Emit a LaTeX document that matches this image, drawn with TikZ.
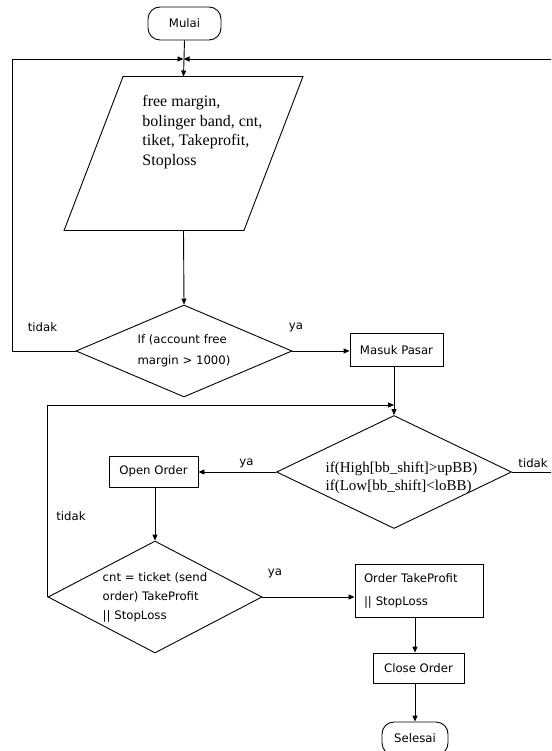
\documentclass[tikz,border=0pt]{standalone}
\usepackage{fontspec}
\setmainfont{Liberation Serif}
\newfontfamily\visfont{DejaVu Sans}
\usetikzlibrary{shapes.geometric,arrows.meta,calc}
\begin{document}
\begin{tikzpicture}[x=1pt,y=-1pt,
  line width=0.9pt,
  arr/.style={-{Triangle[length=6pt,width=5pt]}},
  vis/.style={font=\visfont\fontsize{11.7}{21}\selectfont},
  box/.style={draw, rectangle, inner sep=0pt, vis},
  term/.style={draw, rectangle, rounded corners=12pt, inner sep=0pt, vis},
  dec/.style={draw, diamond, inner sep=0pt, vis},
  lab/.style={inner sep=0pt, vis},
]
\useasboundingbox (0,0) rectangle (551,751);
\clip (0,0) rectangle (551,751);

% nodes
\node[term, minimum width=73pt, minimum height=33pt] (mulai) at (184.5,23.5) {Mulai};
\node[minimum width=179pt, minimum height=153pt, inner sep=0pt] (para) at (183.5,153.5) {};
\draw ([xshift=29.5pt]para.north west) -- ([xshift=29.5pt]para.north east)
   -- ([xshift=-29.5pt]para.south east) -- ([xshift=-29.5pt]para.south west) -- cycle;
\node[anchor=north west, align=left, inner sep=0pt, font=\fontsize{16}{19.5}\selectfont] (paratext) at (142,95)
  {free margin,\\bolinger band, cnt,\\tiket, Takeprofit,\\Stoploss};

\node[dec, aspect=2.35, minimum width=216pt, minimum height=92pt, align=left] (d1) at (184,351)
  {If (account free\\margin > 1000)};
\node[box, minimum width=93pt, minimum height=33pt] (masuk) at (396.5,350) {Masuk Pasar};

\node[dec, aspect=2.1, minimum width=235pt, minimum height=113pt] (d2) at (394,472) {};
\node[align=left, inner sep=0pt, font=\fontsize{15}{18}\selectfont] (d2t) at (401.5,478)
  {if(High[bb\_shift]>upBB)\\if(Low[bb\_shift]<loBB)};

\node[box, minimum width=89pt, minimum height=31pt] (open) at (153.5,471.5) {Open Order};

\node[dec, aspect=1.9, minimum width=214pt, minimum height=112pt, align=left, font=\visfont\fontsize{11.7}{19}\selectfont] (d3) at (155,597)
  {cnt = ticket (send\\order) TakeProfit\\|| StopLoss};

\node[box, minimum width=128pt, minimum height=53pt, align=left, text width=110pt, font=\visfont\fontsize{11.7}{23}\selectfont] (tp) at (419,590.5)
  {Order TakeProfit\\|| StopLoss};
\node[box, minimum width=91pt, minimum height=30pt] (close) at (418.5,668) {Close Order};
\node[term, minimum width=66pt, minimum height=33pt] (sel) at (415,738.5) {Selesai};

% labels
\node[lab] (t1) at (42.5,327) {tidak};
\node[lab] (y1) at (296,327) {ya};
\node[lab] (y2) at (246.5,463) {ya};
\node[lab, anchor=west] (t2) at (518,463) {tidak};
\node[lab] (t3) at (71,516) {tidak};
\node[lab] (y3) at (275,573) {ya};

% junctions
\coordinate (j1) at (para.north |- 0,59);
\coordinate (j2) at (d2.north |- 0,405);
\coordinate (eR) at (560,472);
\coordinate (eT) at (560,59);

% connectors
\draw[arr] (mulai.south) -- (para.north);
\draw[arr] (para.south) -- (d1.north);
\draw[arr] (d1.west) -- (12,351) -- (12,59) -- (j1);
\draw (d2.east) -- (eR) -- (eT);
\draw[arr] (eT) -- (j1);
\draw[arr] (d1.east) -- (d1.east -| masuk.west);
\draw[arr] (masuk.south -| d2.north) -- (d2.north);
\draw[arr] (d3.west) -- (d3.west |- j2) -- (j2);
\draw[arr] (d2.west) -- (d2.west -| open.east);
\draw[arr] (open.south -| d3.north) -- (d3.north);
\draw[arr] (d3.east) -- (d3.east -| tp.west);
\draw[arr] (tp.south -| sel.north) -- (close.north -| sel.north);
\draw[arr] (close.south -| sel.north) -- (sel.north);
\end{tikzpicture}
\end{document}
